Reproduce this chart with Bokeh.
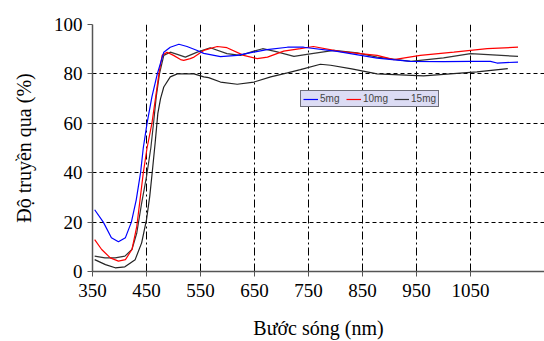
from bokeh.plotting import figure
from bokeh.models import Legend, LegendItem, Range1d, FixedTicker
from bokeh.embed import file_html
from bokeh.resources import INLINE

# ---- data ----
x_ticks = [350, 450, 550, 650, 750, 850, 950, 1050]
y_ticks = [0, 20, 40, 60, 80, 100]

wl_5mg = [354, 370, 385, 398, 411, 422, 431, 439, 444, 451, 460, 470, 482, 494, 510, 525,
          544, 556, 587, 618, 648, 673, 711, 741, 803, 877, 939, 1000, 1050, 1087, 1099, 1138]
t_5mg = [25, 20, 13.7, 12, 13.7, 20, 29, 40, 50, 60, 70.7, 80, 88.8, 90.8, 92, 91.1,
         89.5, 88.3, 87, 87.5, 88.8, 89.8, 90.8, 90.8, 89.1, 86.4, 85.1, 85.0, 85.1, 85.1, 84.4, 84.8]

wl_10mg = [354, 367, 383, 398, 411, 423, 432, 438, 444, 451, 460, 467, 473, 479, 488, 500,
           513, 519, 531, 538, 556, 581, 599, 630, 655, 674, 704, 735, 759, 810, 877, 908,
           957, 1019, 1081, 1138]
t_10mg = [12.9, 8.9, 5.5, 4.2, 4.8, 8.9, 18.3, 29, 39.8, 50, 60, 70.7, 80, 87.5, 88.8, 87.5,
          85.8, 85.5, 86.2, 86.8, 89.5, 91.1, 90.6, 87.5, 86.2, 86.8, 89.2, 90.2, 91.1, 89.0, 87.5, 85.8,
          87.5, 88.8, 90.2, 90.8]

wl_15mg = [354, 373, 392, 410, 423, 432, 441, 450, 458, 463, 468, 474, 482, 494, 507, 522,
           544, 568, 599, 624, 649, 665, 690, 723, 750, 797, 840, 877, 939, 1000, 1050, 1138]
t_15mg = [6.2, 5.5, 5.5, 6.2, 8.9, 15.6, 27.7, 38.4, 50, 60, 70.7, 80, 87.5, 88.8, 87.9, 86.8,
          88.8, 90.6, 88.2, 87.5, 89.2, 90.2, 89, 87.1, 88, 89.5, 88.5, 86.8, 85.1, 86.5, 88.2, 87.1]

wl_extra = [354, 374, 392, 410, 429, 441, 450, 456, 461, 466, 471, 476, 482, 494, 507, 519,
            538, 556, 565, 587, 618, 649, 680, 711, 735, 772, 791, 830, 877, 963, 1062, 1119]
t_extra = [4.8, 2.8, 1.5, 1.9, 4.8, 11.6, 21, 30.4, 41, 52, 64, 70, 74.7, 78.8, 80, 80,
           80, 78.8, 78.5, 76.7, 75.8, 76.7, 78.8, 80.4, 81.7, 83.9, 83.5, 82, 80, 79.2, 80.8, 82.1]

labels = ["5mg", "10mg", "15mg"]

# ---- figure ----
p = figure(width=544, height=341, output_backend="svg", toolbar_location=None,
           x_range=Range1d(350, 1187), y_range=Range1d(0, 100),
           min_border_left=92, min_border_right=0, min_border_top=24, min_border_bottom=69)
p.outline_line_color = None
p.background_fill_color = "white"
p.border_fill_color = "white"

r_extra = p.line(wl_extra, t_extra, line_color="#222222", line_width=1.2)
r15 = p.line(wl_15mg, t_15mg, line_color="#333333", line_width=1.2)
r10 = p.line(wl_10mg, t_10mg, line_color="#ff0000", line_width=1.2)
r5 = p.line(wl_5mg, t_5mg, line_color="#0000ff", line_width=1.2)

p.xaxis.ticker = FixedTicker(ticks=x_ticks)
p.yaxis.ticker = FixedTicker(ticks=y_ticks)

for ax in (p.xaxis[0], p.yaxis[0]):
    ax.axis_line_color = "#555555"
    ax.axis_line_width = 1.5
    ax.major_tick_line_color = "#555555"
    ax.major_tick_out = 5
    ax.major_tick_in = 0
    ax.minor_tick_line_color = None
    ax.major_label_text_font = "Liberation Serif"
    ax.major_label_text_font_size = "19px"
    ax.major_label_text_color = "black"
    ax.axis_label_text_font = "Liberation Serif"
    ax.axis_label_text_font_size = "20px"
    ax.axis_label_text_font_style = "normal"
    ax.axis_label_text_color = "black"

p.xaxis.axis_label = "Bước sóng (nm)"
p.yaxis.axis_label = "Độ truyền qua (%)"
p.xaxis.major_label_standoff = 7
p.xaxis.axis_label_standoff = 17
p.yaxis.major_label_standoff = 5
p.yaxis.axis_label_standoff = 16

p.xgrid.grid_line_color = "black"
p.xgrid.grid_line_dash = "8 3 2 3"
p.xgrid.grid_line_width = 1
p.ygrid.grid_line_color = "black"
p.ygrid.grid_line_dash = "4 3"
p.ygrid.grid_line_width = 1

legend = Legend(items=[LegendItem(label=labels[0], renderers=[r5]),
                       LegendItem(label=labels[1], renderers=[r10]),
                       LegendItem(label=labels[2], renderers=[r15])],
                location=(208, 164), orientation="horizontal",
                border_line_color="black", border_line_width=1,
                background_fill_color="#dcdcf4", background_fill_alpha=1,
                label_text_font="Liberation Sans", label_text_font_size="10px",
                glyph_width=15, glyph_height=10, label_height=10,
                padding=2, spacing=6, label_standoff=2, margin=0)
p.add_layout(legend)

open("out.html", "w").write(file_html(p, INLINE))
